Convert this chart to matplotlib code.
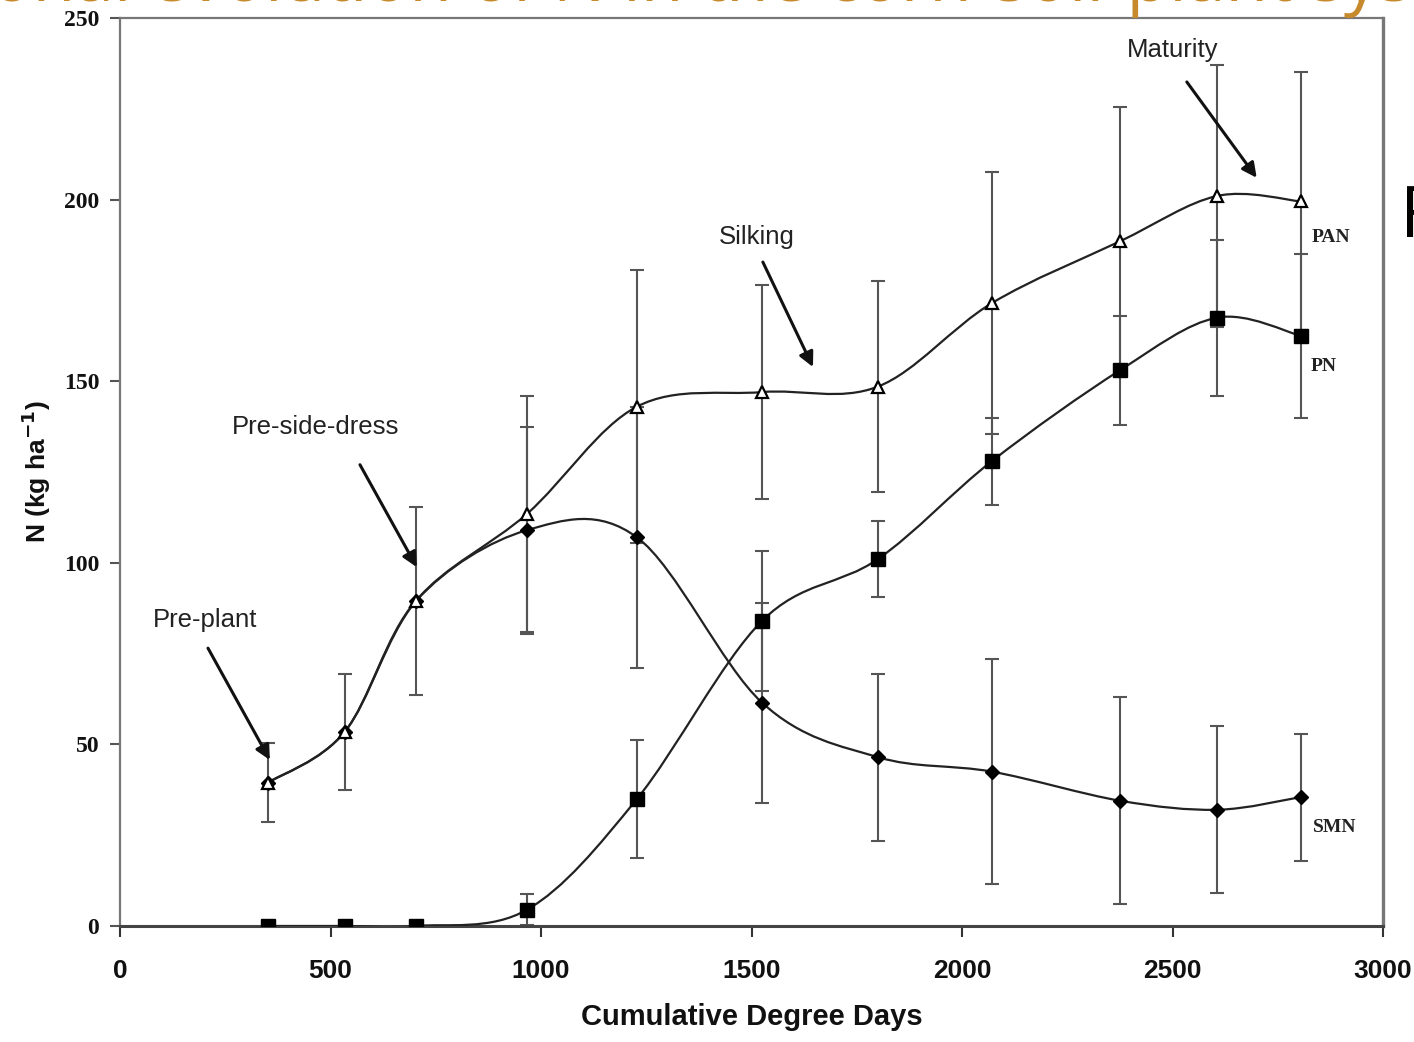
import numpy as np
import matplotlib
matplotlib.use("Agg")
import matplotlib.pyplot as plt
from matplotlib.path import Path
from matplotlib.patches import PathPatch

# ---------------- data ----------------
gdd = [352, 534, 703, 967, 1228, 1525, 1800, 2071, 2375, 2606, 2805]
pan = [39.5, 53.5, 89.5, 113.5, 143, 147, 148.5, 171.5, 188.5, 201, 199.5]
pn = [0, 0, 0, 4.5, 35, 84, 101, 128, 153, 167.5, 162.5]
smn = [39.5, 53.5, 89.5, 109, 107, 61.5, 46.5, 42.5, 34.5, 32, 35.5]
pan_err = [11, 16, 26, 32.5, 37.5, 29.5, 29, 36, 37, 36, 35.5]
pn_err = [np.nan, np.nan, np.nan, 4.2, 16.2, 19.3, 10.5, 12, 15, 21.5, 22.5]
smn_err = [np.nan, np.nan, np.nan, 28.5, 36, 27.5, 23, 31, 28.5, 23, 17.5]

x_ticks = [0, 500, 1000, 1500, 2000, 2500, 3000]
y_ticks = [0, 50, 100, 150, 200, 250]

# annotations: (text, text_xy, arrow_start, arrow_end)
stages = [
    ("Pre-plant", (202, 84.3), (209, 76.5), (356, 45.7)),
    ("Pre-side-dress", (465, 137.3), (570, 127), (705, 98.8)),
    ("Silking", (1513, 189.8), (1527, 182.8), (1646, 153.9)),
    ("Maturity", (2501, 241.2), (2534, 232.4), (2700, 206)),
]
series_labels = [("PAN", (2877, 189.7)), ("PN", (2860, 154)), ("SMN", (2886, 27))]

title_text = "Seasonal evolution of N in the corn-soil-plant system"

W, H = 1414, 1042
fig = plt.figure(figsize=(W / 100, H / 100), dpi=100)
ax = fig.add_axes([120 / W, 1 - 926 / H, (1383 - 120) / W, (926 - 18) / H])
ax.set_xlim(0, 3000)
ax.set_ylim(0, 250)


def smooth_path(xs, ys):
    """Catmull-Rom style smoothed line (like spreadsheet smoothed lines) as Bezier path."""
    pts = np.column_stack([xs, ys]).astype(float)
    n = len(pts)
    verts = [pts[0]]
    codes = [Path.MOVETO]
    for i in range(n - 1):
        p0 = pts[i - 1] if i > 0 else pts[i]
        p1 = pts[i]
        p2 = pts[i + 1]
        p3 = pts[i + 2] if i + 2 < n else pts[i + 1]
        c1 = p1 + (p2 - p0) / 6.0
        c2 = p2 - (p3 - p1) / 6.0
        verts += [c1, c2, p2]
        codes += [Path.CURVE4] * 3
    return Path(verts, codes)


line_kw = dict(facecolor="none", edgecolor="#222222", lw=1.6, zorder=3)
for ys in (pan, pn, smn):
    ax.add_patch(PathPatch(smooth_path(gdd, ys), **line_kw))

err_kw = dict(fmt="none", ecolor="#555555", elinewidth=1.5, capsize=5, capthick=1.5, zorder=2)
ax.errorbar(gdd, pan, yerr=pan_err, **err_kw)
ax.errorbar(gdd, pn, yerr=pn_err, **err_kw)
ax.errorbar(gdd, smn, yerr=smn_err, **err_kw)

ax.plot(gdd, smn, ls="none", marker="D", ms=7.5, color="black", zorder=4)
ax.plot(gdd, pn, ls="none", marker="s", ms=10, color="black", zorder=5)
ax.plot(gdd, pan, ls="none", marker="^", ms=9, mfc="white", mec="black", mew=1.6, zorder=6)

for txt, txy, a0, a1 in stages:
    ax.text(txy[0], txy[1], txt, ha="center", va="center", fontsize=18.5,
            family="Liberation Sans", color="#222222", zorder=7)
    ax.annotate("", xy=a1, xytext=a0,
                arrowprops=dict(arrowstyle="-|>", lw=2.2, color="#111111",
                                mutation_scale=22, shrinkA=0, shrinkB=0), zorder=7)

for txt, pos in series_labels:
    ax.text(pos[0], pos[1], txt, ha="center", va="center", fontsize=14,
            family="Liberation Serif", fontweight="bold", color="#222222")

ax.set_xticks(x_ticks)
ax.set_yticks(y_ticks)
ax.set_xticklabels([str(v) for v in x_ticks], family="Liberation Sans",
                   fontweight="bold", fontsize=19)
ax.set_yticklabels([str(v) for v in y_ticks], family="Liberation Serif",
                   fontweight="bold", fontsize=17)
ax.tick_params(axis="x", direction="out", length=8, width=1.5, pad=16, colors="#333333",
               labelcolor="#111111")
ax.tick_params(axis="y", direction="out", length=7, width=1.5, pad=8, colors="#555555",
               labelcolor="#111111")

for side, sp in ax.spines.items():
    sp.set_color("#777777")
    sp.set_linewidth(1.6)
ax.spines["bottom"].set_color("#444444")
ax.spines["bottom"].set_linewidth(2.2)
ax.spines["right"].set_linewidth(2.4)

ax.set_xlabel("Cumulative Degree Days", family="Liberation Sans", fontweight="bold",
              fontsize=21, labelpad=14, color="#111111")
ax.set_ylabel("N (kg ha$^{\\mathbf{-1}}$)", family="Liberation Sans", fontweight="bold",
              fontsize=19, labelpad=8, color="#111111")

# slide remnants: cropped orange title and cut-off letter at right edge
fig.canvas.draw()
renderer = fig.canvas.get_renderer()
prefix = title_text.split("plant")[0]
probe = fig.text(0, 0, prefix, fontsize=50, family="Open Sans")
wpx = probe.get_window_extent(renderer).width
probe.remove()
x0 = 1126 - wpx
fig.text(x0 / W, 1 - 1 / H, title_text, fontsize=50, family="Open Sans",
         color="#C68A2C", ha="left", va="baseline")
fig.text(1400 / W, 1 - 237 / H, "F", fontsize=52, family="Open Sans",
         color="black", ha="left", va="baseline")

fig.savefig("out.png", dpi=100)
